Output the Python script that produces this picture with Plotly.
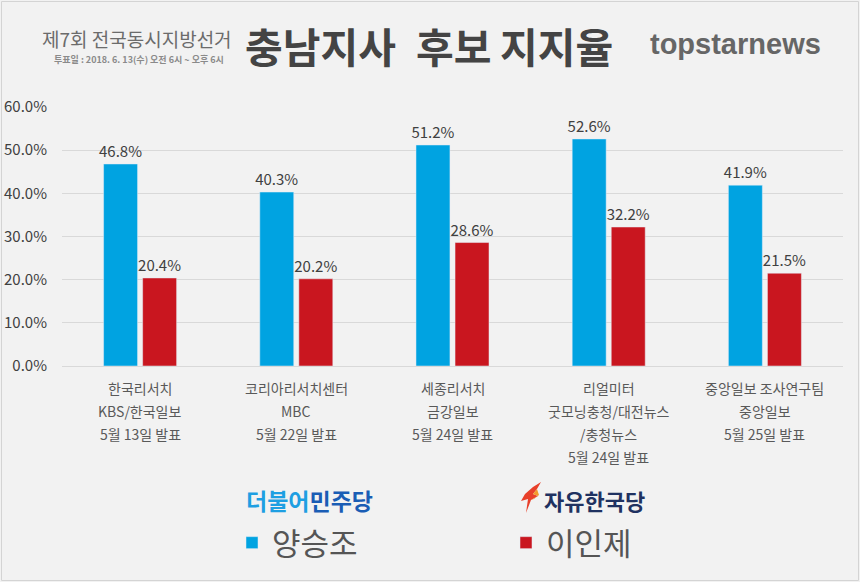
import plotly.graph_objects as go

# ---- data ----
pollsters = ["한국리서치", "코리아리서치센터", "세종리서치", "리얼미터", "중앙일보 조사연구팀"]
label_lines = [
    ["한국리서치", "KBS/한국일보", "5월 13일 발표"],
    ["코리아리서치센터", "MBC", "5월 22일 발표"],
    ["세종리서치", "금강일보", "5월 24일 발표"],
    ["리얼미터", "굿모닝충청/대전뉴스", "/충청뉴스", "5월 24일 발표"],
    ["중앙일보 조사연구팀", "중앙일보", "5월 25일 발표"],
]
yang = [46.8, 40.3, 51.2, 52.6, 41.9]   # 양승조 (더불어민주당)
lee = [20.4, 20.2, 28.6, 32.2, 21.5]    # 이인제 (자유한국당)
y_ticks = [0, 10, 20, 30, 40, 50, 60]
title_words = ["충남지사", "후보", "지지율"]

BLUE = "#00a3e1"
RED = "#c9161f"
BG = "#f2f2f2"
FONT = "Noto Sans CJK KR"

# pixel -> paper helpers (plot area: x 62..843, y 107..366)
L, R, T, B = 62, 843, 107, 366
def px(x):
    return (x - L) / (R - L)
def py(y):
    return (B - y) / (B - T)

xs = list(range(len(pollsters)))

fig = go.Figure()
fig.add_trace(go.Bar(
    x=xs, y=yang, name="양승조", marker_color=BLUE,
    text=[f"{v:.1f}%" for v in yang], textposition="outside", constraintext="none",
    textfont=dict(size=15, color="#404040", family=FONT), cliponaxis=False,
))
fig.add_trace(go.Bar(
    x=xs, y=lee, name="이인제", marker_color=RED,
    text=[f"{v:.1f}%" for v in lee], textposition="outside", constraintext="none",
    textfont=dict(size=15, color="#404040", family=FONT), cliponaxis=False,
))

annotations = []
# category labels (multi-line)
for i, lines in enumerate(label_lines):
    for j, line in enumerate(lines):
        annotations.append(dict(
            x=i, xref="x", y=py(388 + 23 * j), yref="paper",
            text=line, showarrow=False, xanchor="center", yanchor="middle",
            font=dict(size=14, color="#595959", family=FONT),
        ))

# main title, word by word
for word, x0 in zip(title_words, [243, 414, 498]):
    annotations.append(dict(
        x=px(x0), y=py(45), xref="paper", yref="paper", xanchor="left", yanchor="middle",
        text=f"<b>{word}</b>", showarrow=False,
        font=dict(size=41, color="#444444", family=FONT)))

# header texts
annotations += [
    dict(x=px(40), y=py(38), xref="paper", yref="paper", xanchor="left", yanchor="middle",
         text="제7회 전국동시지방선거", showarrow=False,
         font=dict(size=19, color="#6b6b6b", family=FONT)),
    dict(x=px(52), y=py(60), xref="paper", yref="paper", xanchor="left", yanchor="middle",
         text="<b>투표일 : 2018. 6. 13(수) 오전 6시 ~ 오후 6시</b>", showarrow=False,
         font=dict(size=9, color="#8a8a8a", family=FONT)),
    dict(x=px(648), y=py(44), xref="paper", yref="paper", xanchor="left", yanchor="middle",
         text="<b>topstarnews</b>", showarrow=False,
         font=dict(size=29, color="#666666", family="Liberation Sans")),
    dict(x=px(244), y=py(500), xref="paper", yref="paper", xanchor="left", yanchor="middle",
         text="<b><span style='color:#1e9fe2'>더불어</span><span style='color:#1a5db5'>민주당</span></b>",
         showarrow=False, font=dict(size=23, family=FONT)),
    dict(x=px(542), y=py(500), xref="paper", yref="paper", xanchor="left", yanchor="middle",
         text="<b>자유한국당</b>", showarrow=False,
         font=dict(size=22, color="#1f3261", family=FONT)),
]

def path(points):
    return "M " + " L ".join(f"{px(a):.5f},{py(b):.5f}" for a, b in points) + " Z"

shapes = [
    # outer frame
    dict(type="rect", xref="paper", yref="paper", x0=px(1.5), x1=px(858.5), y0=py(1.5), y1=py(580.5),
         line=dict(color="#d4d4d4", width=1), fillcolor="rgba(0,0,0,0)", layer="below"),
    # torch icon
    dict(type="path", xref="paper", yref="paper",
         path=path([(541, 482), (533, 487), (525, 494), (521, 501), (528, 499), (526, 513), (531, 500), (538, 496), (533, 494), (537, 489)]),
         fillcolor="#e8402a", line=dict(width=0)),
    dict(type="path", xref="paper", yref="paper",
         path=path([(537, 489), (533, 494), (538, 496), (531, 500), (534, 499), (539, 495)]),
         fillcolor="#f39a2b", line=dict(width=0)),
]

fig.update_layout(
    width=860, height=582,
    margin=dict(l=L, r=860 - R, t=T, b=582 - B, pad=0, autoexpand=False),
    paper_bgcolor=BG, plot_bgcolor=BG,
    barmode="group", bargap=0.5, bargroupgap=0.13,
    font=dict(family=FONT, color="#404040"),
    showlegend=True,
    legend=dict(orientation="h", x=px(232), xanchor="left", y=py(543), yanchor="middle",
                font=dict(size=31, color="#555555", family=FONT),
                entrywidth=229, entrywidthmode="pixels", bgcolor="rgba(0,0,0,0)",
                itemclick=False, itemdoubleclick=False),
    annotations=annotations,
    shapes=shapes,
    xaxis=dict(range=[-0.5, 4.5], showticklabels=False, showgrid=False, zeroline=False,
               showline=False, ticks="", fixedrange=True, automargin=False),
    yaxis=dict(range=[0, 60], tickvals=y_ticks, ticktext=[f"{v:.1f}%" for v in y_ticks],
               showgrid=True, gridcolor="#d9d9d9", gridwidth=1, zeroline=True,
               zerolinecolor="#d9d9d9", zerolinewidth=1, showline=False, ticks="",
               ticklabelstandoff=14, tickfont=dict(size=15, color="#404040", family=FONT),
               fixedrange=True, automargin=False),
)

fig.write_html("out.html", config={"displayModeBar": False},
               post_script="document.body.style.margin='0px';")
